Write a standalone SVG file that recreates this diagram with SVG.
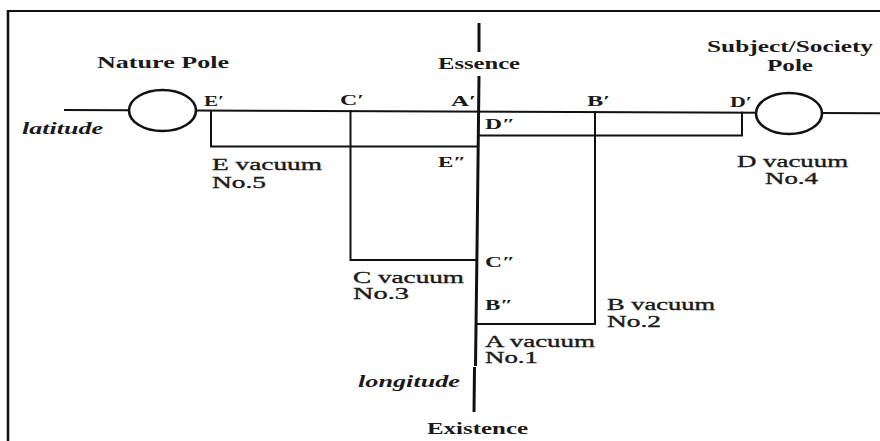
<svg xmlns="http://www.w3.org/2000/svg" width="880" height="441" viewBox="0 0 880 441">
<style>
  .ln{stroke:#111;stroke-width:2;fill:none;stroke-linecap:square}
  .axis{stroke:#111;stroke-width:3;fill:none}
  .pole{stroke:#111;stroke-width:2.6;fill:#fff}
  text{font-family:"Liberation Serif","Times New Roman",serif;fill:#1a1a1a}
  .b{font-weight:bold;font-size:17px}
  .bs{font-weight:bold;font-size:16px}
  .bi{font-weight:bold;font-style:italic;font-size:16px}
  .p{font-weight:bold;font-size:15px}
  .v{font-size:16px;stroke:#1a1a1a;stroke-width:0.35}
</style>
<rect width="880" height="441" fill="#fff"/>
<g id="frame">
  <line x1="8" y1="11" x2="880" y2="11" stroke="#111" stroke-width="2"/>
  <line x1="8" y1="10" x2="8" y2="441" stroke="#111" stroke-width="2.6"/>
</g>
<g id="connectors">
  <line class="ln" x1="65" y1="110" x2="880" y2="113.3"/>
  <line class="axis" x1="479" y1="23" x2="479" y2="52"/>
  <polyline class="axis" points="479,76 477,250 475.5,366"/>
  <line class="axis" x1="474.5" y1="367" x2="474" y2="412"/>
  <polyline class="ln" points="211,111 211,146.5 477,146.5"/>
  <polyline class="ln" points="350.5,111.5 350.5,260 477,260"/>
  <polyline class="ln" points="595,112.3 595,324 476,324"/>
  <polyline class="ln" points="742,112.8 742,135.5 478,135.5"/>
</g>
<g id="nature-pole">
  <ellipse class="pole" cx="162.5" cy="110.5" rx="33.5" ry="20.5"/>
  <text class="b" x="97" y="68" textLength="132" lengthAdjust="spacingAndGlyphs">Nature Pole</text>
</g>
<g id="society-pole">
  <ellipse class="pole" cx="789" cy="113.5" rx="33" ry="20.5"/>
  <text class="bs" x="707" y="52" textLength="166" lengthAdjust="spacingAndGlyphs">Subject/Society</text>
  <text class="bs" x="767" y="71" textLength="46" lengthAdjust="spacingAndGlyphs">Pole</text>
</g>
<g id="axis-labels">
  <text class="b" x="438" y="69" textLength="82" lengthAdjust="spacingAndGlyphs">Essence</text>
  <text class="b" x="427" y="434" textLength="101" lengthAdjust="spacingAndGlyphs">Existence</text>
  <text class="bi" x="22" y="134" textLength="81" lengthAdjust="spacingAndGlyphs">latitude</text>
  <text class="bi" x="358" y="387" textLength="102" lengthAdjust="spacingAndGlyphs">longitude</text>
</g>
<g id="point-labels">
  <text class="p" x="204" y="106" textLength="20" lengthAdjust="spacingAndGlyphs">E′</text>
  <text class="p" x="340" y="105" textLength="24" lengthAdjust="spacingAndGlyphs">C′</text>
  <text class="p" x="451" y="106" textLength="25" lengthAdjust="spacingAndGlyphs">A′</text>
  <text class="p" x="587" y="106" textLength="23" lengthAdjust="spacingAndGlyphs">B′</text>
  <text class="p" x="730" y="107" textLength="22" lengthAdjust="spacingAndGlyphs">D′</text>
  <text class="p" x="485" y="129" textLength="30" lengthAdjust="spacingAndGlyphs">D″</text>
  <text class="p" x="438" y="167" textLength="28" lengthAdjust="spacingAndGlyphs">E″</text>
  <text class="p" x="485" y="267" textLength="30" lengthAdjust="spacingAndGlyphs">C″</text>
  <text class="p" x="485" y="310" textLength="28" lengthAdjust="spacingAndGlyphs">B″</text>
</g>
<g id="vacuum-e">
  <text class="v" x="212" y="170" textLength="110" lengthAdjust="spacingAndGlyphs">E vacuum</text>
  <text class="v" x="212" y="188" textLength="54" lengthAdjust="spacingAndGlyphs">No.5</text>
</g>
<g id="vacuum-d">
  <text class="v" x="737" y="167" textLength="111" lengthAdjust="spacingAndGlyphs">D vacuum</text>
  <text class="v" x="765" y="184" textLength="53" lengthAdjust="spacingAndGlyphs">No.4</text>
</g>
<g id="vacuum-c">
  <text class="v" x="353" y="283" textLength="111" lengthAdjust="spacingAndGlyphs">C vacuum</text>
  <text class="v" x="353" y="299" textLength="56" lengthAdjust="spacingAndGlyphs">No.3</text>
</g>
<g id="vacuum-b">
  <text class="v" x="607" y="310" textLength="108" lengthAdjust="spacingAndGlyphs">B vacuum</text>
  <text class="v" x="607" y="327" textLength="54" lengthAdjust="spacingAndGlyphs">No.2</text>
</g>
<g id="vacuum-a">
  <text class="v" x="485" y="347" textLength="110" lengthAdjust="spacingAndGlyphs">A vacuum</text>
  <text class="v" x="485" y="363" textLength="53" lengthAdjust="spacingAndGlyphs">No.1</text>
</g>
</svg>
